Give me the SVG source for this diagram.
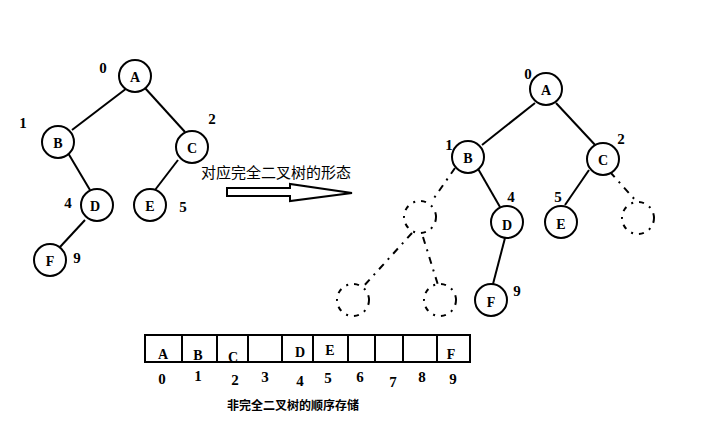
<svg xmlns="http://www.w3.org/2000/svg" width="718" height="446" viewBox="0 0 718 446">
<style>
.n{fill:#fff;stroke:#000;stroke-width:2}
.d{fill:none;stroke:#000;stroke-width:2;stroke-dasharray:5,6,2,6}
.e{stroke:#000;stroke-width:2;fill:none}
.ed{stroke:#000;stroke-width:2;fill:none;stroke-dasharray:7,6,2,6}
.t{font-family:"Liberation Serif",serif;font-size:14px;font-weight:bold;text-anchor:middle;dominant-baseline:central}
.i{font-family:"Liberation Serif",serif;font-size:15px;font-weight:bold;text-anchor:middle;dominant-baseline:central}
.c{font-family:"Noto Sans CJK SC",sans-serif;font-size:15px}
.cb{font-family:"Noto Sans CJK SC",sans-serif;font-size:12px;font-weight:bold}
</style>
<rect width="718" height="446" fill="#fff"/>
<g id="connectors">
<line class="e" x1="127" y1="88" x2="72" y2="130"/>
<line class="e" x1="145" y1="88" x2="185" y2="132"/>
<line class="e" x1="68" y1="153" x2="90" y2="190"/>
<line class="e" x1="178" y1="160" x2="155" y2="190"/>
<line class="e" x1="85" y1="220" x2="60" y2="247"/>
<line class="e" x1="535" y1="103" x2="482" y2="145"/>
<line class="e" x1="556" y1="103" x2="597" y2="147"/>
<line class="e" x1="477" y1="167" x2="500" y2="207"/>
<line class="e" x1="589" y1="170" x2="565" y2="205"/>
<line class="e" x1="505" y1="238" x2="493" y2="284"/>
<line class="ed" x1="455" y1="168" x2="432" y2="201"/>
<line class="ed" x1="610" y1="172" x2="637" y2="202"/>
<line class="ed" x1="412" y1="233" x2="362" y2="288"/>
<line class="ed" x1="423" y1="237" x2="438" y2="285"/>
</g>
<g id="left-A"><circle class="n" cx="135" cy="76" r="16"/><text class="t" x="135" y="77">A</text><text class="i" x="103" y="68">0</text></g>
<g id="left-B"><circle class="n" cx="58" cy="142" r="16"/><text class="t" x="58" y="143">B</text><text class="i" x="23" y="123">1</text></g>
<g id="left-C"><circle class="n" cx="192" cy="147" r="16"/><text class="t" x="192" y="148">C</text><text class="i" x="212" y="119">2</text></g>
<g id="left-D"><circle class="n" cx="97" cy="205" r="16"/><text class="t" x="95" y="206">D</text><text class="i" x="68" y="203">4</text></g>
<g id="left-E"><circle class="n" cx="150" cy="205" r="16"/><text class="t" x="150" y="206">E</text><text class="i" x="183" y="207">5</text></g>
<g id="left-F"><circle class="n" cx="50" cy="260" r="16"/><text class="t" x="50" y="261">F</text><text class="i" x="77" y="258">9</text></g>
<g id="arrow">
<text class="c" x="201" y="178">对应完全二叉树的形态</text>
<polygon points="227,188 290,188 290,184 352,193 290,201 290,196 227,196" fill="#fff" stroke="#000" stroke-width="2"/>
</g>
<g id="right-A"><circle class="n" cx="546" cy="89" r="16"/><text class="t" x="546" y="90">A</text><text class="i" x="528" y="74">0</text></g>
<g id="right-B"><circle class="n" cx="468" cy="157" r="16"/><text class="t" x="468" y="158">B</text><text class="i" x="449" y="145">1</text></g>
<g id="right-C"><circle class="n" cx="603" cy="159" r="16"/><text class="t" x="603" y="160">C</text><text class="i" x="621" y="139">2</text></g>
<g id="right-D"><circle class="n" cx="507" cy="222" r="16"/><text class="t" x="507" y="225">D</text><text class="i" x="511" y="197">4</text></g>
<g id="right-E"><circle class="n" cx="561" cy="222" r="16"/><text class="t" x="561" y="224">E</text><text class="i" x="558" y="197">5</text></g>
<g id="right-F"><circle class="n" cx="491" cy="300" r="16"/><text class="t" x="491" y="302">F</text><text class="i" x="517" y="291">9</text></g>
<g id="right-3"><circle class="d" cx="420" cy="217" r="16"/></g>
<g id="right-6"><circle class="d" cx="638" cy="218" r="16"/></g>
<g id="right-7"><circle class="d" cx="353" cy="300" r="16"/></g>
<g id="right-8"><circle class="d" cx="440" cy="300" r="16"/></g>
<g id="array">
<rect x="145" y="335" width="325" height="27" fill="none" stroke="#000" stroke-width="2"/>
<path d="M182 335V362M217 335V362M248 335V362M282 335V362M313 335V362M348 335V362M375 335V362M403 335V362M437 335V362" stroke="#000" stroke-width="2"/>
<text class="t" x="163" y="354">A</text>
<text class="t" x="198" y="355">B</text>
<text class="t" x="233" y="357">C</text>
<text class="t" x="300" y="352">D</text>
<text class="t" x="330" y="350">E</text>
<text class="t" x="451" y="354">F</text>
<text class="i" x="162" y="379">0</text>
<text class="i" x="198" y="376">1</text>
<text class="i" x="235" y="380">2</text>
<text class="i" x="265" y="377">3</text>
<text class="i" x="300" y="381">4</text>
<text class="i" x="328" y="378">5</text>
<text class="i" x="360" y="377">6</text>
<text class="i" x="393" y="382">7</text>
<text class="i" x="422" y="377">8</text>
<text class="i" x="453" y="379">9</text>
<text class="cb" x="227" y="410">非完全二叉树的顺序存储</text>
</g>
</svg>
